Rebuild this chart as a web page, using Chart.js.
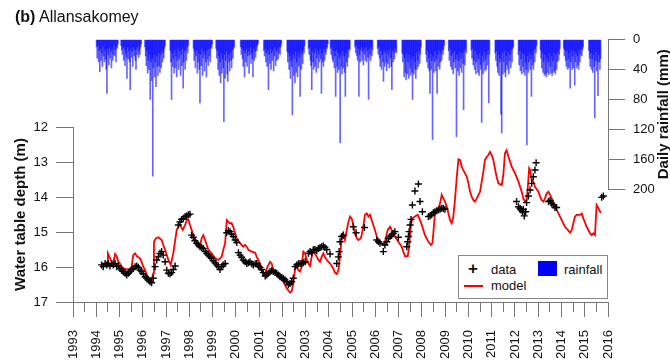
<!DOCTYPE html>
<html>
<head>
<meta charset="utf-8">
<script src="https://cdn.jsdelivr.net/npm/chart.js@4.4.0/dist/chart.umd.min.js"></script>
<style>
  body { margin: 0; width: 670px; height: 362px; overflow: hidden; background: #fff;
         font-family: 'Liberation Sans', Arial, sans-serif; }
  .layer { position: absolute; left: 0; top: 0; }
  #title { position: absolute; left: 15px; top: 8px; font-size: 16px; color: #111; }
  #legend { position: absolute; left: 458px; top: 255px; width: 148px; height: 42px;
            border: 1px solid #888; background: #fff; font-size: 13px; color: #111; }
  #legend span { position: absolute; }
</style>
</head>
<body>
<canvas id="rainChart" class="layer" width="670" height="362"></canvas>
<canvas id="depthChart" class="layer" width="670" height="362"></canvas>
<div id="title"><b>(b)</b> Allansakomey</div>
<div id="legend">
  <span style="left:9px;top:3px;font-size:17px;font-weight:bold;">+</span>
  <span style="left:32px;top:6px;">data</span>
  <span style="left:79px;top:5px;width:19px;height:15px;background:#0000ff;"></span>
  <span style="left:105px;top:6px;">rainfall</span>
  <span style="left:5px;top:29px;width:19px;height:2px;background:#ff0000;"></span>
  <span style="left:32px;top:22px;">model</span>
</div>
<script>
// ===============================
// Data
// ===============================
const yearLabels = [1993, 1994, 1995, 1996, 1997, 1998, 1999, 2000, 2001, 2002, 2003, 2004,
                    2005, 2006, 2007, 2008, 2009, 2010, 2011, 2012, 2013, 2014, 2015, 2016];
const depthTicks = [12, 13, 14, 15, 16, 17];
const rainTicks = [0, 40, 80, 120, 160, 200];

// daily rainfall (mm), one row per year, 36 ten-day slots each
const rainFirstYear = 1994;
const rainDekads = [
  [10,25,8,30,15,43,12,28,18,36,9,22,30,14,26,40,72,12,20,34,10,25,16,38,12,28,20,8,22,14,30,10,12,6,0,0],
  [0,0,8,14,20,10,28,12,35,18,24,52,10,26,15,30,67,12,24,16,36,10,22,14,28,40,12,20,9,24,15,20,10,6,0,0],
  [0,0,0,10,22,35,15,45,28,40,20,80,30,55,25,183,38,20,50,30,63,22,36,48,18,35,44,20,38,15,30,18,25,12,8,0],
  [0,0,0,0,0,0,15,30,80,18,36,25,45,14,38,22,50,28,12,40,26,15,48,20,35,12,65,30,16,40,14,28,10,18,8,0],
  [0,0,0,0,0,0,12,28,16,38,22,14,45,30,18,40,85,20,35,12,48,25,16,42,20,30,50,14,26,35,12,22,30,10,12,6],
  [0,0,0,0,0,12,25,15,40,22,48,30,58,18,45,26,38,110,20,52,28,15,46,56,20,30,42,18,28,38,14,25,12,10,0,0],
  [0,0,0,0,0,0,0,10,20,12,26,36,14,50,18,30,12,36,22,15,45,20,10,32,18,26,50,12,28,16,24,10,15,8,5,0],
  [0,0,0,0,0,0,0,15,22,12,30,18,36,14,67,20,32,12,40,18,28,14,42,22,10,35,16,28,12,26,18,10,20,10,6,0],
  [0,0,0,0,0,0,0,16,30,18,40,22,52,28,36,101,20,48,25,58,16,44,30,50,18,36,24,76,15,40,20,32,14,18,8,0],
  [0,0,0,0,12,20,10,28,35,67,15,30,40,18,36,12,44,25,15,38,20,30,12,26,72,18,30,36,12,28,16,20,10,12,6,0],
  [0,0,12,20,10,26,30,15,38,22,76,14,36,44,18,40,25,138,20,36,46,15,38,22,44,76,18,30,36,14,24,12,14,0,0,0],
  [0,0,0,0,10,18,8,22,28,12,76,20,30,14,10,28,16,34,12,20,28,10,30,15,24,80,12,20,28,10,22,14,0,0,0,0],
  [0,0,0,12,20,10,25,36,15,40,20,30,56,14,36,18,30,42,15,32,20,38,12,25,36,67,15,30,18,26,12,16,18,0,0,0],
  [0,0,0,0,0,18,30,20,50,25,44,54,18,46,30,52,20,38,48,26,44,80,22,46,30,40,52,18,40,28,36,15,32,20,10,0],
  [0,0,0,0,0,0,20,30,15,38,25,42,72,18,40,28,134,22,44,30,15,42,26,72,20,36,14,40,30,18,28,12,20,14,8,0],
  [0,0,0,0,0,15,28,12,36,22,40,18,46,30,15,38,26,130,20,42,28,48,16,38,25,44,18,32,94,15,34,12,18,0,0,0],
  [0,0,0,0,14,25,12,34,28,40,15,46,30,20,44,26,48,18,34,40,111,22,46,30,16,42,26,40,20,34,14,85,20,0,0,0],
  [0,0,0,0,0,18,28,15,36,44,20,48,30,25,100,125,18,46,30,15,44,50,22,34,40,16,46,28,20,38,14,30,12,10,0,0],
  [0,0,0,0,0,20,34,15,42,26,46,18,36,44,20,48,30,40,141,22,44,30,18,40,26,76,20,34,40,14,30,12,18,8,0,0],
  [0,0,0,14,25,38,18,44,30,48,20,46,50,25,44,30,47,18,36,45,22,48,28,44,18,42,46,20,40,30,16,28,20,12,0,0],
  [0,0,0,12,22,14,28,36,15,40,26,38,18,65,30,14,40,22,38,15,61,30,18,38,22,34,40,14,30,20,12,22,14,10,0,0],
  [0,0,0,0,0,0,15,25,36,18,40,26,44,20,36,105,28,16,42,30,75,20,30,40,26,0,0,0,0,0,0,0,0,0,0,0]
];

// observed water table depth (m)
const obsYear = [
  1994.23,1994.30,1994.38,1994.45,1994.52,1994.59,1994.66,1994.73,1994.81,1994.88,1994.95,
  1995.02,1995.09,1995.16,1995.24,1995.31,1995.38,1995.45,1995.52,1995.59,1995.67,1995.74,1995.81,1995.88,1995.95,
  1996.02,1996.10,1996.17,1996.24,1996.31,1996.38,1996.45,1996.53,1996.60,1996.67,1996.74,1996.81,1996.88,1996.96,
  1997.03,1997.10,1997.17,1997.24,1997.31,1997.39,1997.53,1997.60,1997.67,1997.74,1997.82,1997.89,1997.96,
  1998.03,1998.10,1998.17,1998.24,1998.32,1998.39,1998.46,1998.53,1998.60,1998.68,1998.75,1998.82,1998.89,1998.96,
  1999.03,1999.11,1999.18,1999.25,1999.32,1999.39,1999.46,1999.54,1999.61,1999.68,1999.75,1999.82,1999.89,1999.97,
  2000.04,2000.11,2000.18,2000.25,2000.32,2000.40,2000.47,2000.54,2000.61,2000.68,2000.75,2000.83,2000.90,2000.97,
  2001.04,2001.11,2001.18,2001.26,2001.33,2001.40,2001.47,2001.54,2001.61,2001.69,2001.76,2001.83,2001.90,2001.97,
  2002.04,2002.11,2002.19,2002.26,2002.33,2002.40,2002.47,2002.55,2002.62,2002.69,2002.76,2002.83,2002.90,2002.98,
  2003.12,2003.19,2003.26,2003.33,2003.40,2003.48,2003.55,2003.62,2003.69,2003.76,2003.83,2003.91,2004.05,
  2004.34,2004.41,2004.44,2004.48,2004.55,2004.62,2005.05,2005.17,2005.53,
  2006.06,2006.13,2006.20,2006.34,2006.41,2006.49,2006.56,2006.63,2006.70,2006.77,2006.84,2006.99,
  2007.35,2007.39,2007.42,2007.45,2007.49,2007.53,2007.59,2007.70,2007.85,2007.92,2008.02,
  2008.28,2008.35,2008.42,2008.49,2008.56,2008.64,2008.71,2008.78,2008.85,2008.92,2008.99,
  2012.07,2012.15,2012.22,2012.26,2012.32,2012.36,2012.40,2012.46,2012.50,2012.58,2012.65,2012.72,2012.79,2012.86,2012.91,
  2013.44,2013.51,2013.58,2013.65,2013.72,2013.79,2015.73,2015.80
];
const obsDepth = [
  15.94,15.99,15.90,15.94,15.91,15.97,15.90,15.94,15.90,15.99,15.97,
  16.04,16.09,16.13,16.18,16.23,16.18,16.13,16.07,16.04,15.99,15.97,16.01,16.09,16.13,
  16.20,16.28,16.32,16.37,16.42,16.45,16.32,15.99,15.80,15.71,15.61,15.56,15.66,15.85,
  16.09,16.18,16.20,16.16,16.07,15.97,14.80,14.71,14.64,14.61,14.56,14.54,14.51,
  14.49,15.09,15.15,15.25,15.32,15.37,15.42,15.44,15.47,15.56,15.61,15.66,15.71,15.75,
  15.82,15.88,15.94,15.99,16.07,15.99,15.94,15.90,15.02,14.96,14.99,15.06,15.13,15.23,
  15.30,15.59,15.66,15.72,15.80,15.85,15.90,15.88,15.85,15.91,15.94,15.91,15.90,15.97,
  16.01,16.07,16.16,16.26,16.23,16.18,16.13,16.11,16.13,16.16,16.18,16.23,16.28,16.30,
  16.32,16.37,16.42,16.51,16.47,16.42,16.32,15.99,15.94,15.91,15.90,15.91,15.88,15.85,
  15.61,15.56,15.59,15.51,15.50,15.53,15.47,15.44,15.42,15.40,15.44,15.50,15.63,
  15.90,15.71,15.56,15.28,15.13,15.09,14.85,15.02,14.87,
  15.23,15.28,15.32,15.56,15.37,15.28,15.18,15.13,15.09,15.04,14.99,15.15,
  15.42,15.28,15.13,14.99,14.80,14.64,14.23,13.83,13.63,14.13,14.42,
  14.56,14.54,14.51,14.45,14.42,14.39,14.37,14.35,14.32,14.33,14.35,
  14.13,14.28,14.32,14.37,14.42,14.35,14.54,14.42,14.16,13.97,13.80,13.61,13.42,13.23,13.02,
  14.13,14.10,14.18,14.23,14.30,14.30,14.01,13.97
];

// modelled water table depth (m)
const modelYear = [
  1994.47,1994.50,1994.59,1994.66,1994.73,1994.81,1994.88,1994.95,1995.02,1995.09,1995.16,1995.31,
  1995.45,1995.52,1995.59,1995.67,1995.74,1995.88,1995.95,1996.02,1996.10,1996.17,1996.28,1996.38,
  1996.45,1996.48,1996.57,1996.67,1996.81,1996.88,1996.96,1997.03,1997.10,1997.20,1997.31,1997.46,
  1997.53,1997.60,1997.72,1997.82,1997.89,1997.96,1998.03,1998.10,1998.17,1998.32,1998.46,1998.53,
  1998.60,1998.68,1998.75,1998.82,1998.96,1999.11,1999.25,1999.39,1999.46,1999.54,1999.61,1999.68,
  1999.75,1999.82,1999.89,1999.97,2000.04,2000.18,2000.32,2000.40,2000.47,2000.54,2000.68,2000.83,
  2000.90,2001.04,2001.11,2001.18,2001.26,2001.33,2001.47,2001.54,2001.61,2001.76,2001.90,2002.04,
  2002.19,2002.33,2002.40,2002.47,2002.55,2002.62,2002.69,2002.76,2002.83,2002.90,2002.98,2003.05,
  2003.12,2003.19,2003.26,2003.33,2003.40,2003.48,2003.55,2003.62,2003.69,2003.76,2003.83,2003.91,
  2004.05,2004.19,2004.26,2004.34,2004.41,2004.48,2004.55,2004.62,2004.69,2004.77,2004.84,2004.91,
  2004.98,2005.05,2005.12,2005.20,2005.27,2005.38,2005.48,2005.55,2005.63,2005.70,2005.77,2005.84,
  2005.91,2005.98,2006.06,2006.20,2006.34,2006.41,2006.53,2006.63,2006.70,2006.77,2006.84,2006.99,
  2007.13,2007.20,2007.27,2007.39,2007.45,2007.53,2007.59,2007.70,2007.82,2007.92,2008.02,2008.13,
  2008.28,2008.39,2008.45,2008.49,2008.56,2008.64,2008.71,2008.78,2008.85,2008.92,2008.99,2009.07,
  2009.14,2009.21,2009.28,2009.35,2009.42,2009.50,2009.57,2009.64,2009.71,2009.78,2009.93,2010.00,
  2010.07,2010.14,2010.21,2010.28,2010.36,2010.43,2010.50,2010.57,2010.64,2010.71,2010.79,2010.86,
  2010.93,2011.00,2011.07,2011.14,2011.21,2011.29,2011.43,2011.50,2011.57,2011.64,2011.72,2011.79,
  2011.86,2012.00,2012.15,2012.29,2012.36,2012.43,2012.50,2012.55,2012.61,2012.65,2012.72,2012.79,
  2012.86,2013.01,2013.08,2013.15,2013.22,2013.29,2013.36,2013.44,2013.51,2013.58,2013.72,2013.79,
  2013.87,2014.01,2014.15,2014.30,2014.37,2014.44,2014.51,2014.58,2014.65,2014.80,2014.87,2014.94,
  2015.08,2015.23,2015.30,2015.37,2015.44,2015.51,2015.59,2015.66,2015.70
];
const modelDepth = [
  15.90,15.61,15.75,15.85,15.90,15.63,15.70,15.85,15.91,15.99,16.04,16.07,
  16.07,15.99,15.66,15.61,15.69,15.75,15.85,15.99,16.09,16.23,16.32,16.37,
  16.18,15.28,15.18,15.15,15.23,15.37,15.51,15.66,15.80,15.94,15.61,14.94,
  14.85,14.80,14.94,14.80,14.66,14.64,14.80,14.94,15.09,15.28,15.42,15.18,
  15.09,15.23,15.37,15.51,15.61,15.75,15.80,15.71,15.51,15.32,14.66,14.71,
  14.75,14.75,14.85,15.04,15.18,15.32,15.42,15.37,15.42,15.51,15.56,15.59,
  15.71,15.90,16.09,16.23,16.18,16.04,15.85,15.90,16.09,16.18,16.32,16.42,
  16.61,16.73,16.70,16.47,16.04,15.99,16.09,16.13,15.99,15.56,15.61,15.80,
  15.90,15.97,15.71,15.56,15.61,15.71,15.80,15.85,15.71,15.61,15.71,15.80,
  15.90,16.04,16.16,16.20,16.09,15.71,15.18,15.04,15.23,14.94,14.71,14.56,
  14.61,14.80,15.04,15.18,15.23,15.18,14.85,14.51,14.47,14.56,14.51,14.66,
  14.80,14.94,15.13,15.32,15.37,15.28,14.94,14.85,14.94,15.04,15.13,15.28,
  15.42,15.56,15.69,15.69,15.42,14.80,14.61,14.56,14.51,14.66,14.85,15.09,
  15.28,15.37,15.32,15.04,14.47,14.37,14.32,14.18,13.94,14.04,14.13,14.28,
  14.47,14.66,14.75,14.56,14.09,13.42,12.92,12.94,13.13,13.23,13.42,13.61,
  13.85,13.99,14.09,14.13,14.04,13.94,13.85,13.56,13.28,12.94,12.85,12.80,
  12.71,12.80,12.94,13.18,13.42,13.61,13.66,13.37,12.75,12.66,12.85,12.99,
  13.13,13.32,13.56,13.85,14.04,14.13,14.09,13.75,13.18,13.23,13.51,13.56,
  13.71,13.85,13.99,14.09,14.13,14.04,13.90,13.85,13.94,14.04,14.28,14.37,
  14.47,14.66,14.85,14.96,15.02,14.94,14.75,14.56,14.51,14.51,14.47,14.61,
  14.85,15.04,15.09,15.04,15.09,14.23,14.32,14.42,14.45
];

// ===============================
// Build points
// ===============================
const rainPoints = [];
rainDekads.forEach((row, i) => {
  row.forEach((v, d) => {
    if (v > 0) rainPoints.push({ x: rainFirstYear + i + (d + 0.5) / 36, y: v });
  });
});
const obsPoints = obsYear.map((x, i) => ({ x: x, y: obsDepth[i] }));
const modelPoints = modelYear.map((x, i) => ({ x: x, y: modelDepth[i] }));

const xTicks = [];
yearLabels.forEach((y, i) => {
  xTicks.push(y);
  if (i < yearLabels.length - 1) xTicks.push(y + 0.5);
});
const depthMinor = [];
depthTicks.forEach((v, i) => {
  depthMinor.push(v);
  if (i < depthTicks.length - 1) depthMinor.push(v + 0.5);
});
const rainMinor = [];
rainTicks.forEach((v, i) => {
  rainMinor.push(v);
  if (i < rainTicks.length - 1) rainMinor.push(v + 20);
});

const FONT = "'Liberation Sans', Arial, sans-serif";
Chart.defaults.font.family = FONT;
Chart.defaults.color = '#111';
const AXIS = '#777';

// ===============================
// Chart: rainfall (top, right axis)
// ===============================
const rainTitle = {
  id: 'rainTitle',
  afterDraw(chart) {
    const s = chart.scales.y2;
    const ctx = chart.ctx;
    ctx.save();
    ctx.translate(664, (s.top + s.bottom) / 2);
    ctx.rotate(-Math.PI / 2);
    ctx.font = 'bold 15px ' + FONT;
    ctx.fillStyle = '#111';
    ctx.textAlign = 'center';
    ctx.textBaseline = 'middle';
    ctx.fillText('Daily rainfall (mm)', 0, 0);
    ctx.restore();
  }
};

new Chart(document.getElementById('rainChart'), {
  type: 'bar',
  data: {
    datasets: [{
      label: 'rainfall',
      data: rainPoints,
      backgroundColor: 'rgba(0,0,255,0.6)',
      borderWidth: 0,
      barThickness: 1,
      yAxisID: 'y2'
    }]
  },
  options: {
    responsive: false,
    animation: false,
    layout: { padding: { left: 73, top: 39.5, right: 0, bottom: 173 } },
    plugins: { legend: { display: false }, tooltip: { enabled: false } },
    scales: {
      x: { type: 'linear', min: 1993, max: 2016, offset: false, display: false },
      y2: {
        position: 'right', reverse: true, min: 0, max: 200,
        afterBuildTicks: s => { s.ticks = rainMinor.map(v => ({ value: v })); },
        afterFit: s => { s.width = 62; },
        ticks: {
          font: { size: 13 }, color: '#111', padding: 8,
          callback: v => (rainTicks.includes(v) ? String(v) : '')
        },
        grid: { drawOnChartArea: false, tickLength: 17, color: AXIS },
        border: { color: AXIS }
      }
    }
  },
  plugins: [rainTitle]
});

// ===============================
// Chart: water table depth (bottom, left axis)
// ===============================
new Chart(document.getElementById('depthChart'), {
  data: {
    datasets: [{
      type: 'scatter',
      label: 'data',
      data: obsPoints,
      pointStyle: 'cross',
      pointRadius: 3.5,
      borderColor: '#000',
      borderWidth: 1.4,
      order: 1
    }, {
      type: 'line',
      label: 'model',
      data: modelPoints,
      borderColor: '#ff0000',
      borderWidth: 1.8,
      pointRadius: 0,
      tension: 0,
      order: 2
    }]
  },
  options: {
    responsive: false,
    animation: false,
    layout: { padding: { left: 0, top: 127, right: 62, bottom: 0 } },
    plugins: { legend: { display: false }, tooltip: { enabled: false } },
    scales: {
      x: {
        type: 'linear', min: 1993, max: 2016,
        afterBuildTicks: s => { s.ticks = xTicks.map(v => ({ value: v })); },
        afterFit: s => { s.height = 60; },
        ticks: {
          autoSkip: false, minRotation: 90, maxRotation: 90, padding: 13,
          font: { size: 13 }, color: '#111',
          callback: v => (yearLabels.includes(v) ? String(v) : '')
        },
        grid: {
          drawOnChartArea: false, tickLength: 15, color: AXIS,
          tickBorderDash: c => (c.tick && yearLabels.includes(c.tick.value) ? [] : [9, 30])
        },
        border: { color: AXIS }
      },
      y: {
        position: 'left', reverse: true, min: 12, max: 17,
        afterBuildTicks: s => { s.ticks = depthMinor.map(v => ({ value: v })); },
        afterFit: s => { s.width = 73; },
        ticks: {
          font: { size: 13 }, color: '#111', padding: 8,
          callback: v => (depthTicks.includes(v) ? String(v) : '')
        },
        grid: { drawOnChartArea: false, tickLength: 17, color: AXIS },
        border: { color: AXIS },
        title: {
          display: true, text: 'Water table depth (m)', color: '#111',
          font: { size: 15, weight: 'bold' }, padding: { top: 12, bottom: 0 }
        }
      }
    }
  }
});
</script>
</body>
</html>
